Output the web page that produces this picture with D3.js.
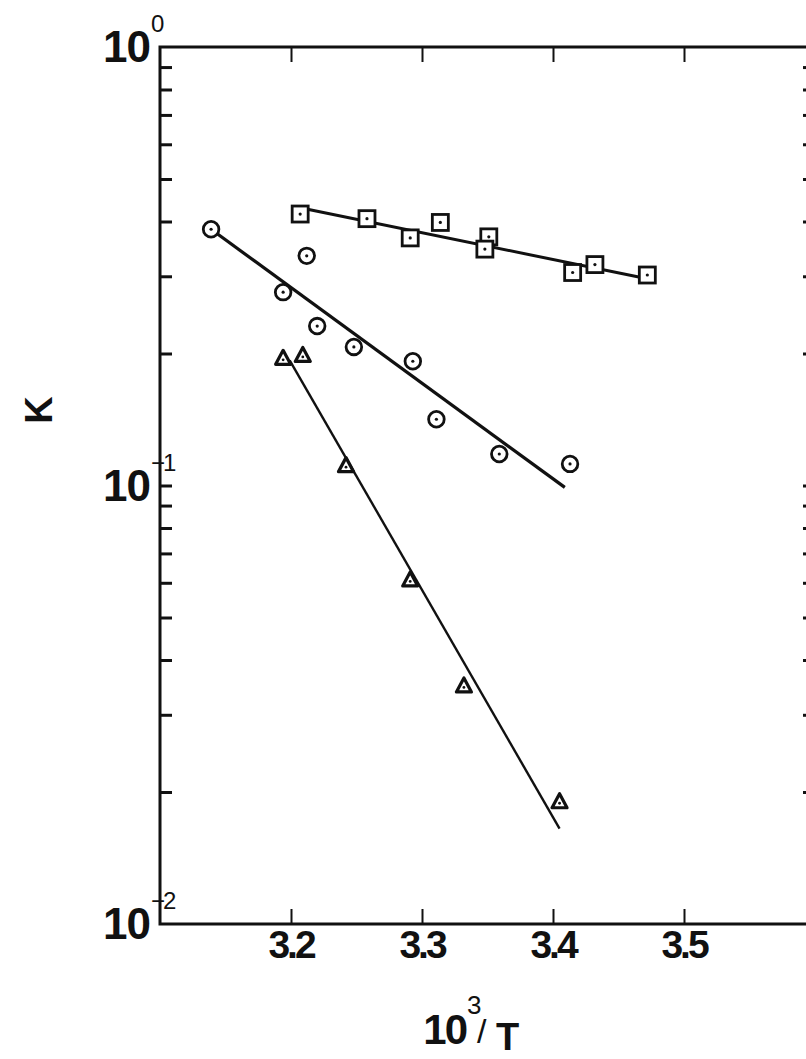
<!DOCTYPE html>
<html>
<head>
<meta charset="utf-8">
<script src="https://cdn.jsdelivr.net/npm/d3@7"></script>
<style>
  body { margin: 0; background: #fff; }
  svg { display: block; }
  text { font-family: "Liberation Sans", Arial, sans-serif; fill: #111; }
</style>
</head>
<body>
<div id="chart"></div>
<script>
// data (x = 10^3/T, y = K)
const squareX = [3.207, 3.258, 3.291, 3.314, 3.351, 3.348, 3.415, 3.432, 3.472];
const squareK = [0.416, 0.406, 0.367, 0.398, 0.369, 0.346, 0.306, 0.319, 0.302];
const squareFit = [[3.207, 0.430], [3.472, 0.296]];

const circleX = [3.139, 3.194, 3.212, 3.220, 3.248, 3.293, 3.311, 3.359, 3.413];
const circleK = [0.384, 0.276, 0.334, 0.231, 0.207, 0.192, 0.1416, 0.118, 0.112];
const circleFit = [[3.139, 0.384], [3.409, 0.099]];

const triX = [3.194, 3.209, 3.242, 3.291, 3.332, 3.405];
const triK = [0.195, 0.198, 0.111, 0.0609, 0.0349, 0.0190];
const triFit = [[3.199, 0.193], [3.405, 0.0165]];

const xTicks = [3.2, 3.3, 3.4, 3.5];
const decades = [{ v: 1, exp: "0" }, { v: 0.1, exp: "\u22121" }, { v: 0.01, exp: "\u22122" }];

const W = 806, H = 1059;
const x = d3.scaleLinear().domain([3.1, 3.6]).range([160, 815]);
const y = d3.scaleLog().domain([0.01, 1]).range([924, 47]);

const svg = d3.select('#chart').append('svg')
  .attr('width', W).attr('height', H);

// minor ticks 2..9 per decade
const minor = [];
[0.01, 0.1].forEach(d => { for (let i = 2; i <= 9; i++) minor.push(d * i); });

// frame
svg.append('rect')
  .attr('x', x(3.1)).attr('y', y(1))
  .attr('width', x(3.6) - x(3.1)).attr('height', y(0.01) - y(1))
  .attr('fill', 'none').attr('stroke', '#111').attr('stroke-width', 3);

function noLabels(g) { g.select('.domain').remove(); g.selectAll('text').remove(); }

// left / right ticks (inward)
svg.append('g').attr('transform', `translate(${x(3.1)},0)`)
  .call(d3.axisLeft(y).tickValues(minor.concat([0.1])).tickSize(-12))
  .call(noLabels)
  .selectAll('line').attr('stroke', '#111').attr('stroke-width', 3);
svg.append('g').attr('transform', `translate(${x(3.6)},0)`)
  .call(d3.axisRight(y).tickValues(minor.concat([0.1])).tickSize(-12))
  .call(noLabels)
  .selectAll('line').attr('stroke', '#111').attr('stroke-width', 3);

// bottom / top ticks (inward)
svg.append('g').attr('transform', `translate(0,${y(0.01)})`)
  .call(d3.axisBottom(x).tickValues(xTicks).tickSize(-15))
  .call(noLabels)
  .selectAll('line').attr('stroke', '#111').attr('stroke-width', 2);
svg.append('g').attr('transform', `translate(0,${y(1)})`)
  .call(d3.axisTop(x).tickValues(xTicks).tickSize(-15))
  .call(noLabels)
  .selectAll('line').attr('stroke', '#111').attr('stroke-width', 2);

// x tick labels
svg.append('g').selectAll('text').data(xTicks).enter().append('text')
  .attr('x', d => x(d)).attr('y', y(0.01) + 34)
  .attr('text-anchor', 'middle')
  .attr('font-size', 39).attr('font-weight', 'bold')
  .attr('letter-spacing', -3)
  .text(d => d.toFixed(1));

// y decade labels
const dl = svg.append('g').selectAll('g').data(decades).enter().append('g');
dl.append('text')
  .attr('x', 150).attr('y', d => y(d.v) + 15)
  .attr('text-anchor', 'end')
  .attr('font-size', 44).attr('font-weight', 'bold')
  .attr('letter-spacing', -1)
  .text('10');
dl.append('text')
  .attr('x', 151).attr('y', d => y(d.v) - 15)
  .attr('font-size', 24)
  .attr('letter-spacing', -2)
  .text(d => d.exp);

// axis titles
svg.append('text')
  .attr('transform', 'translate(52,410) rotate(-90)')
  .attr('text-anchor', 'middle')
  .attr('font-size', 38).attr('font-weight', 'bold')
  .text('K');

const xt = svg.append('g');
xt.append('text').attr('x', 466).attr('y', 1044).attr('text-anchor', 'end')
  .attr('font-size', 42).attr('font-weight', 'bold').attr('letter-spacing', -2).text('10');
xt.append('text').attr('x', 467).attr('y', 1014)
  .attr('font-size', 26).text('3');
xt.append('text').attr('x', 477).attr('y', 1043)
  .attr('font-size', 34).text('/');
xt.append('text').attr('x', 496).attr('y', 1050)
  .attr('font-size', 38).attr('font-weight', 'bold').text('T');

// fitted lines
const line = d3.line().x(d => x(d[0])).y(d => y(d[1]));
const plot = svg.append('g').attr('fill', 'none').attr('stroke', '#111');
plot.append('path').attr('d', line(squareFit)).attr('stroke-width', 3);
plot.append('path').attr('d', line(circleFit)).attr('stroke-width', 3.2);
plot.append('path').attr('d', line(triFit)).attr('stroke-width', 2.4);

// markers
const squares = squareX.map((v, i) => [v, squareK[i]]);
const circles = circleX.map((v, i) => [v, circleK[i]]);
const tris = triX.map((v, i) => [v, triK[i]]);

const sq = svg.append('g').selectAll('g').data(squares).enter().append('g')
  .attr('transform', d => `translate(${x(d[0])},${y(d[1])})`);
sq.append('rect').attr('x', -8).attr('y', -8).attr('width', 16).attr('height', 16)
  .attr('fill', '#fff').attr('stroke', '#111').attr('stroke-width', 2.8);
sq.append('circle').attr('r', 1.6).attr('fill', '#111');

const ci = svg.append('g').selectAll('g').data(circles).enter().append('g')
  .attr('transform', d => `translate(${x(d[0])},${y(d[1])})`);
ci.append('circle').attr('r', 7.8)
  .attr('fill', '#fff').attr('stroke', '#111').attr('stroke-width', 2.8);
ci.append('circle').attr('r', 1.6).attr('fill', '#111');

const tr = svg.append('g').selectAll('g').data(tris).enter().append('g')
  .attr('transform', d => `translate(${x(d[0])},${y(d[1])})`);
tr.append('path').attr('d', 'M0,-8 L7.5,6 L-7.5,6 Z')
  .attr('fill', '#fff').attr('stroke', '#111').attr('stroke-width', 3.2)
  .attr('stroke-linejoin', 'round');
tr.append('circle').attr('cy', 1.5).attr('r', 1.4).attr('fill', '#111');
</script>
</body>
</html>
